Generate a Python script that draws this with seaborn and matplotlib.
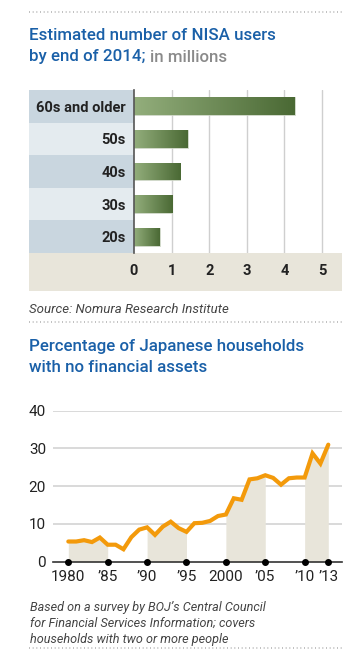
import numpy as np
import pandas as pd
import matplotlib
matplotlib.use("Agg")
import matplotlib.pyplot as plt
import seaborn as sns
from matplotlib.lines import Line2D

# ---------------- data ----------------
age_groups = ["60s and older", "50s", "40s", "30s", "20s"]
nisa_users = [4.28, 1.43, 1.23, 1.02, 0.69]
bar_ticks = [0, 1, 2, 3, 4, 5]

years = list(range(1980, 2014))
no_assets_pct = [5.35, 5.35, 5.7, 5.2, 6.4, 4.5, 4.5, 3.3, 6.5, 8.5,
                 9.1, 7.1, 9.3, 10.6, 8.9, 7.9, 10.2, 10.3, 10.8, 12.1,
                 12.5, 16.8, 16.4, 21.8, 22.1, 22.9, 22.2, 20.4, 22.1, 22.3,
                 22.3, 28.7, 26.0, 31.0]
shade_spans = [(1980, 1985), (1990, 1995), (2000, 2005), (2010, 2013)]
line_ticks = [1980, 1985, 1990, 1995, 2000, 2005, 2010, 2013]
line_ticklabels = ["1980", "\u201985", "\u201990", "\u201995", "2000", "\u201905", "\u201910", "\u201913"]
y_ticks = [0, 10, 20, 30, 40]

# ---------------- style ----------------
sns.set_theme(style="white")
plt.rcParams['font.family'] = ['Liberation Sans Narrow', 'Roboto', 'DejaVu Sans']

W, H = 362, 650
fig = plt.figure(figsize=(W / 100, H / 100), dpi=100)
fig.patch.set_facecolor("white")

def px_axes(x0, y0, x1, y1, **kw):
    return fig.add_axes([x0 / W, 1 - y1 / H, (x1 - x0) / W, (y1 - y0) / H], **kw)

BLUE = "#1a60a8"
GREY_TXT = "#8a8a8a"
BEIGE = "#e8e5da"
ORANGE = "#f39a0b"
TXT = "#222222"

def dotted(y):
    fig.add_artist(Line2D([29 / W, 342 / W], [1 - y / H, 1 - y / H],
                          color="#b5b5b5", lw=1.2, ls=(0, (0.6, 1.6))))

def ftext(x, y, s, **kw):
    fig.text(x / W, 1 - y / H, s, **kw)

# top dotted line and title
dotted(12)
title_font = ['Roboto', 'DejaVu Sans']
ftext(29, 36, "Estimated number of NISA users", color=BLUE, fontsize=12.2,
      family=title_font, fontweight="medium", va="center")
t = fig.text(29 / W, 1 - 57 / H, "by end of 2014;", color=BLUE, fontsize=12.2,
             family=title_font, fontweight="medium", va="center")
fig.canvas.draw()
bb = t.get_window_extent()
fig.text(bb.x1 / W + 4 / W, 1 - 57 / H, "in millions", color=GREY_TXT,
         fontsize=12.2, family=title_font, fontweight="medium", va="center")

# ---------------- bar chart ----------------
# beige band under the bars
axb = px_axes(29, 253, 342, 291)
axb.set_facecolor(BEIGE)
axb.set_xticks([]); axb.set_yticks([])
for s in axb.spines.values():
    s.set_visible(False)

# label column background
axl = px_axes(29, 90, 134, 253)
axl.set_xlim(0, 1)
axl.set_ylim(len(age_groups) - 0.5, -0.5)
row_cols = ["#c9d6df", "#e4ebef"]
for i in range(len(age_groups)):
    axl.axhspan(i - 0.5, i + 0.5, color=row_cols[i % 2], lw=0)
axl.set_xticks([]); axl.set_yticks([])
for s in axl.spines.values():
    s.set_visible(False)

ax1 = px_axes(134, 90, 342, 253)
df_bar = pd.DataFrame({"age": age_groups, "users": nisa_users})
sns.barplot(data=df_bar, y="age", x="users", orient="h", ax=ax1,
            width=0.55, color="#6d8c55")
ax1.set_facecolor("none")
ax1.set_xlim(0, 208 / 37.6)
ax1.set_ylim(len(age_groups) - 0.5, -0.5)
for xv in bar_ticks[1:]:
    ax1.axvline(xv, color="#cfcfcf", lw=1, zorder=0)
ax1.set_xticks(bar_ticks)
ax1.set_xticklabels([str(v) for v in bar_ticks])
ax1.tick_params(axis="x", length=0, pad=8, labelsize=10.5, labelcolor=TXT)
ax1.tick_params(axis="y", length=0, pad=6, labelsize=10.5, labelcolor=TXT)
for lab in ax1.get_xticklabels() + ax1.get_yticklabels():
    lab.set_fontweight("bold")
ax1.set_xlabel(""); ax1.set_ylabel("")
for s in ["top", "right", "bottom"]:
    ax1.spines[s].set_visible(False)
ax1.spines["left"].set_color("#555555")
ax1.spines["left"].set_linewidth(1.2)
ax1.spines["left"].set_zorder(5)

# gradient fill of bars
grad = np.linspace(0, 1, 256).reshape(1, -1)
cmap = matplotlib.colors.LinearSegmentedColormap.from_list("g", ["#93ae7c", "#4a6934"])
for p in ax1.patches:
    x0, y0 = p.get_x(), p.get_y()
    w, h = p.get_width(), p.get_height()
    im = ax1.imshow(grad, extent=[x0, x0 + w, y0 + h, y0], aspect="auto",
                    cmap=cmap, zorder=3, interpolation="bilinear")
    im.set_clip_path(p)
    p.set_facecolor("none")
    p.set_edgecolor("#c9d2c0")
    p.set_linewidth(0.6)
ax1.set_xlim(0, 208 / 37.6)
ax1.set_ylim(len(age_groups) - 0.5, -0.5)

ftext(29, 313, "Source: Nomura Research Institute", color="#444444",
      fontsize=9.5, style="italic", va="baseline", family=['Roboto', 'DejaVu Sans'])

# ---------------- line chart ----------------
dotted(322)
ftext(29, 347, "Percentage of Japanese households", color=BLUE, fontsize=12.2,
      family=title_font, fontweight="medium", va="center")
ftext(29, 368, "with no financial assets", color=BLUE, fontsize=12.2,
      family=title_font, fontweight="medium", va="center")

ax2 = px_axes(53, 410.7, 342, 561.7)
df_line = pd.DataFrame({"year": years, "pct": no_assets_pct})
yr = np.array(years)
pc = np.array(no_assets_pct)
for a, b in shade_spans:
    m = (yr >= a) & (yr <= b)
    ax2.fill_between(yr[m], 0, pc[m], color=BEIGE, lw=0, zorder=1)
for yv in y_ticks[1:]:
    ax2.axhline(yv, color="#d0d0d0", lw=1.1, zorder=0)
sns.lineplot(data=df_line, x="year", y="pct", ax=ax2, color=ORANGE, lw=3.0,
             zorder=4, solid_joinstyle="miter")
ax2.set_xlim(1980 - 15.3 / 7.87, 2013 + 13.7 / 7.87)
ax2.set_ylim(0, 40)
ax2.set_yticks(y_ticks)
ax2.set_yticklabels([str(v) for v in y_ticks])
ax2.set_xticks(line_ticks)
ax2.set_xticklabels(line_ticklabels)
ax2.tick_params(axis="both", length=0, labelsize=11, labelcolor=TXT)
ax2.tick_params(axis="y", pad=5)
ax2.tick_params(axis="x", pad=6)
ax2.set_xlabel(""); ax2.set_ylabel("")
for s in ["top", "right", "left"]:
    ax2.spines[s].set_visible(False)
ax2.spines["bottom"].set_color("#333333")
ax2.spines["bottom"].set_linewidth(1.2)
ax2.scatter(line_ticks, [0] * len(line_ticks), s=16, color="black",
            zorder=6, clip_on=False)
ax2.set_facecolor("none")

note_lines = ["Based on a survey by BOJ\u2019s Central Council",
              "for Financial Services Information; covers",
              "households with two or more people"]
for i, ln in enumerate(note_lines):
    ftext(30, 611 + 16 * i, ln, color="#444444", fontsize=9.1, style="italic",
          va="baseline", family=['Roboto', 'DejaVu Sans'])
dotted(648)

fig.savefig("out.png", dpi=100, facecolor="white")
